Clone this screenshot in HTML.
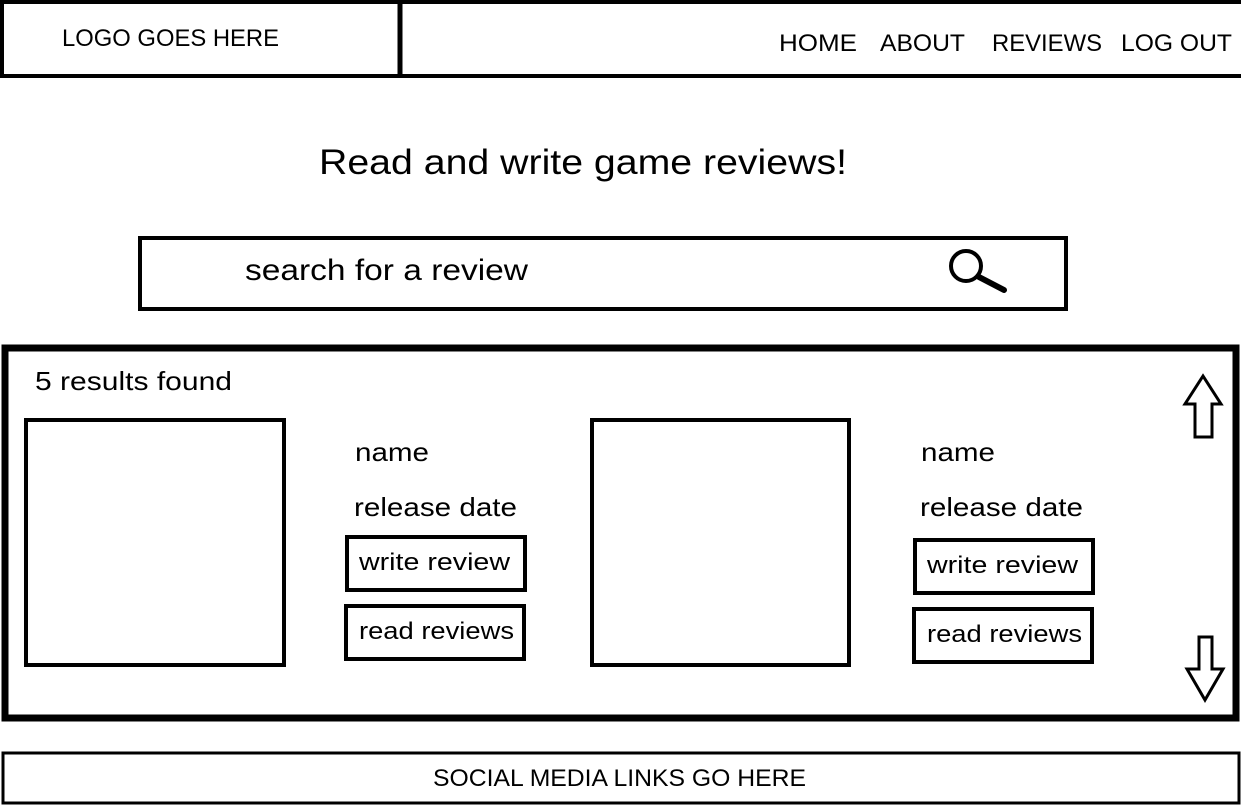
<!DOCTYPE html>
<html><head><meta charset="utf-8"><style>
html,body{margin:0;padding:0;background:#fff;width:1241px;height:806px;overflow:hidden}
svg{display:block}
text{font-family:"Liberation Sans",sans-serif;fill:#000}
</style></head><body>
<svg width="1241" height="806" viewBox="0 0 1241 806" xmlns="http://www.w3.org/2000/svg">
<g fill="none" stroke="#000">
<rect x="2" y="2" width="1245" height="74" stroke-width="4"/>
<line x1="400" y1="2" x2="400" y2="76" stroke-width="5"/>
<rect x="140" y="238" width="926" height="71" stroke-width="4"/>
<circle cx="966" cy="266" r="15" stroke-width="4"/>
<line x1="979" y1="277" x2="1004" y2="290" stroke-width="6" stroke-linecap="round"/>
<rect x="5" y="348" width="1231" height="370" stroke-width="7"/>
<rect x="26" y="420" width="258" height="245" stroke-width="4"/>
<rect x="592" y="420" width="257" height="245" stroke-width="4"/>
<rect x="347" y="537" width="178" height="53" stroke-width="4"/>
<rect x="346" y="606" width="178" height="53" stroke-width="4"/>
<rect x="915" y="540" width="178" height="53" stroke-width="4"/>
<rect x="914" y="609" width="178" height="53" stroke-width="4"/>
<polygon points="1203,376 1185,404 1195,404 1195,437 1212,437 1212,404 1221,404" stroke-width="3"/>
<polygon points="1199,637 1212,637 1212,669 1223,669 1205,700 1187,669 1199,669" stroke-width="3"/>
<rect x="3" y="753" width="1236" height="50" stroke-width="3"/>
</g>
<text x="62" y="46" font-size="24" textLength="217" lengthAdjust="spacingAndGlyphs">LOGO GOES HERE</text>
<text x="779" y="51" font-size="24" textLength="78" lengthAdjust="spacingAndGlyphs">HOME</text>
<text x="880" y="51" font-size="24" textLength="85" lengthAdjust="spacingAndGlyphs">ABOUT</text>
<text x="992" y="51" font-size="24" textLength="110" lengthAdjust="spacingAndGlyphs">REVIEWS</text>
<text x="1121" y="51" font-size="24" textLength="111" lengthAdjust="spacingAndGlyphs">LOG OUT</text>
<text x="319" y="174" font-size="35" textLength="528" lengthAdjust="spacingAndGlyphs">Read and write game reviews!</text>
<text x="245" y="280" font-size="30" textLength="283" lengthAdjust="spacingAndGlyphs">search for a review</text>
<text x="35" y="390" font-size="26" textLength="197" lengthAdjust="spacingAndGlyphs">5 results found</text>
<text x="355" y="461" font-size="26" textLength="74" lengthAdjust="spacingAndGlyphs">name</text>
<text x="354" y="516" font-size="26" textLength="163" lengthAdjust="spacingAndGlyphs">release date</text>
<text x="359" y="570" font-size="24" textLength="151" lengthAdjust="spacingAndGlyphs">write review</text>
<text x="359" y="639" font-size="24" textLength="155" lengthAdjust="spacingAndGlyphs">read reviews</text>
<text x="921" y="461" font-size="26" textLength="74" lengthAdjust="spacingAndGlyphs">name</text>
<text x="920" y="516" font-size="26" textLength="163" lengthAdjust="spacingAndGlyphs">release date</text>
<text x="927" y="573" font-size="24" textLength="151" lengthAdjust="spacingAndGlyphs">write review</text>
<text x="927" y="642" font-size="24" textLength="155" lengthAdjust="spacingAndGlyphs">read reviews</text>
<text x="433" y="786" font-size="24" textLength="373" lengthAdjust="spacingAndGlyphs">SOCIAL MEDIA LINKS GO HERE</text>
</svg>
</body></html>
